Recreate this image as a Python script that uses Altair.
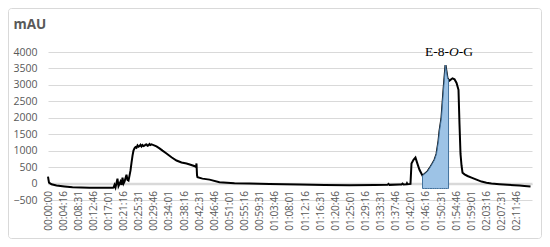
import altair as alt
import pandas as pd

# Elapsed time (seconds) and detector response (mAU)
TIME_S = [
    0, 8, 17, 59, 143, 278, 413, 700, 987, 1088, 1105,
    1122, 1139, 1172, 1189, 1223, 1240, 1257, 1274, 1291, 1324, 1341, 1358,
    1375, 1392, 1409, 1426, 1442, 1459, 1476, 1493, 1510, 1527, 1544, 1560,
    1577, 1594, 1611, 1628, 1645, 1662, 1679, 1695, 1712, 1729, 1746, 1780,
    1830, 1881, 1932, 1999, 2083, 2168, 2252, 2337, 2404, 2488, 2497, 2505,
    2514, 2522, 2606, 2725, 2893, 3146, 3399, 3737, 4243, 4665, 5086, 5508,
    5727, 5744, 5761, 5930, 5964, 5981, 5998, 6048, 6056, 6065, 6115,
    6132, 6166, 6199, 6233, 6267, 6318, 6351, 6402, 6436, 6486, 6520, 6554,
    6588, 6605, 6638, 6672, 6706, 6740, 6757, 6774, 6824, 6858, 6892, 6925,
    6942, 6959, 6976, 6993, 7027, 7077, 7144, 7229, 7313, 7397, 7481, 7616,
    7751, 7869, 7954, 8038, 8140,
]
MAU = [
    210, 120, 30, -20, -60, -90, -115, -125, -130, -125, -120,
    -40, -120, 150, -80, 60, -40, 180, 0, 60, 270, 110, 90,
    240, 400, 640, 850, 1000, 1070, 1110, 1090, 1160, 1120, 1140, 1180,
    1130, 1170, 1140, 1150, 1180, 1190, 1150, 1160, 1200, 1170, 1190, 1170,
    1130, 1070, 1000, 915, 800, 700, 640, 610, 570, 520, 500, 610,
    250, 190, 150, 120, 40, 10, 0, -15, -30, -45, -50, -45,
    -40, -10, -40, -30, -30, 0, -30, -20, 10, -20, -10,
    610, 720, 790, 600, 420, 240, 290, 370, 460, 610, 720, 900,
    1300, 1600, 2000, 2840, 3600, 3200, 3160, 3130, 3200, 3170, 3060, 2850,
    1800, 900, 550, 330, 280, 230, 180, 120, 60, 25, 0, -20,
    -35, -50, -60, -75, -90,
]

PEAK_START = 6318
PEAK_END = 6757
PEAK_BASE = -150
PEAK_TIME = [6706]
PEAK_VALUE = [3600]
PEAK_LABEL_PARTS = ["E-8-", "O", "-G"]

Y_TICKS = list(range(-500, 4001, 500))
X_TICKS = [0, 256, 511, 766, 1021, 1276, 1531, 1786, 2041, 2296, 2551, 2806,
           3061, 3316, 3571, 3826, 4081, 4336, 4591, 4846, 5101, 5356, 5611,
           5866, 6121, 6376, 6631, 6886, 7141, 7396, 7651, 7906]
X_MAX = 8165

df = pd.DataFrame({"t": TIME_S, "v": MAU})
df_peak = df[(df["t"] >= PEAK_START) & (df["t"] <= PEAK_END)].copy()
df_peak["base"] = PEAK_BASE
df_label = pd.DataFrame({"t": PEAK_TIME, "v": PEAK_VALUE})

x_enc = alt.X(
    "t:Q",
    scale=alt.Scale(domain=[0, X_MAX], nice=False, zero=False),
    axis=alt.Axis(
        values=X_TICKS,
        labelExpr="utcFormat(datum.value * 1000, '%H:%M:%S')",
        labelAngle=-90,
        labelAlign="right",
        labelBaseline="middle",
        labelFlush=False,
        labelOverlap=False,
        labelPadding=7,
        labelColor="#595959",
        labelFont="Open Sans",
        labelFontSize=10,
        grid=False,
        ticks=False,
        domainColor="#d9d9d9",
        domainWidth=2.5,
        offset=-16.4,
        title=None,
    ),
)
y_enc = alt.Y(
    "v:Q",
    scale=alt.Scale(domain=[-500, 4000], nice=False, zero=False),
    axis=alt.Axis(
        values=Y_TICKS,
        format="d",
        grid=True,
        gridColor="#d9d9d9",
        gridWidth=1,
        domain=False,
        ticks=False,
        labelPadding=11,
        labelColor="#595959",
        labelFont="Open Sans",
        labelFontSize=10.5,
        title="mAU",
        titleAngle=0,
        titleAlign="left",
        titleBaseline="alphabetic",
        titleX=-35,
        titleY=-24,
        titleFont="Open Sans",
        titleFontSize=13.5,
        titleFontWeight="bold",
        titleColor="#595959",
    ),
)

frame = alt.Chart(pd.DataFrame({"a": [0]})).mark_rect(
    fillOpacity=0, stroke="#d9d9d9", strokeWidth=1, cornerRadius=3, clip=False
).encode(
    x=alt.value(-39.5), x2=alt.value(493.5), y=alt.value(-43.5), y2=alt.value(186.5)
)

line = alt.Chart(df).mark_line(color="black", strokeWidth=2).encode(
    x=x_enc, y=y_enc, order="t:Q"
)

area = alt.Chart(df_peak).mark_area(
    fill="#9dc3e6", fillOpacity=1, stroke="#41719c", strokeWidth=1, orient="vertical"
).encode(x=x_enc, y=y_enc, y2="base:Q")

text_base = alt.Chart(df_label)
lbl_left = text_base.mark_text(
    text=PEAK_LABEL_PARTS[0], font="Liberation Serif", fontSize=13.5,
    align="right", baseline="alphabetic", dx=3.5, dy=-9, color="black"
).encode(x=x_enc, y=y_enc)
lbl_mid = text_base.mark_text(
    text=PEAK_LABEL_PARTS[1], font="Liberation Serif", fontSize=13.5, fontStyle="italic",
    align="center", baseline="alphabetic", dx=8.4, dy=-9, color="black"
).encode(x=x_enc, y=y_enc)
lbl_right = text_base.mark_text(
    text=PEAK_LABEL_PARTS[2], font="Liberation Serif", fontSize=13.5,
    align="left", baseline="alphabetic", dx=13.3, dy=-9, color="black"
).encode(x=x_enc, y=y_enc)

chart = alt.layer(frame, line, area, lbl_left, lbl_mid, lbl_right).properties(
    width=484,
    height=148,
    autosize=alt.AutoSizeParams(type="none"),
    padding={"left": 40, "top": 44, "right": 10, "bottom": 39},
    background="white",
).configure_view(strokeWidth=0)

chart.save("out.html", embed_options={"renderer": "svg", "actions": False})
